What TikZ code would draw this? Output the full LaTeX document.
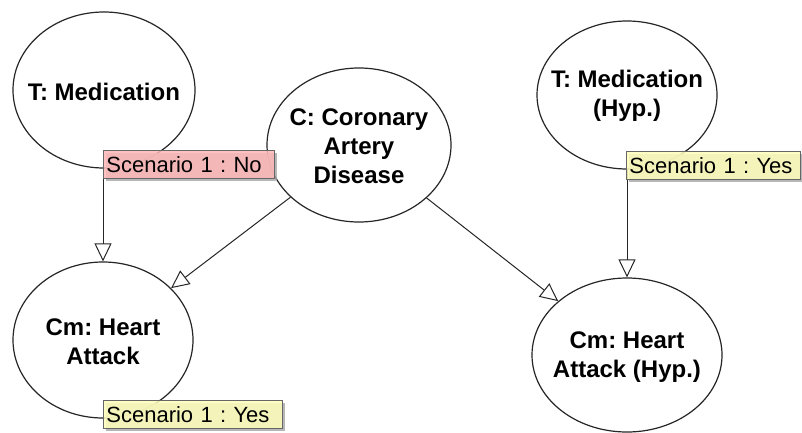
\documentclass[tikz,border=0pt]{standalone}
\usepackage{fontspec}
\setmainfont{Liberation Sans}
\usetikzlibrary{shapes.geometric,arrows.meta,shadows}
\definecolor{pinkbox}{HTML}{FFB8B8}
\definecolor{yellowbox}{HTML}{FFFFBB}
\frenchspacing
\begin{document}
\begin{tikzpicture}[x=1pt,y=-1pt,
  ell/.style={draw=black!85, line width=1.2pt, ellipse, inner sep=0pt},
  etext/.style={font=\frenchspacing\fontsize{24}{29}\selectfont\bfseries, align=center, inner sep=0pt},
  arr/.style={draw=black!85, line width=1pt, -{Triangle[length=18pt,width=17pt,fill=white,line width=1pt]}},
  tag/.style={draw=black!60, line width=0.8pt, anchor=north west, inner xsep=3pt, inner ysep=0pt,
    minimum height=28pt, font=\frenchspacing\fontsize{22}{26}\selectfont, align=left, fill opacity=0.85, text opacity=1,
    drop shadow={shadow xshift=3pt, shadow yshift=-3pt, fill=black!35, opacity=0.8}},
]
\useasboundingbox (0,0) rectangle (802,433);
\fill[white] (0,0) rectangle (802,433);
% ellipses
\node[ell, minimum width=182pt, minimum height=156pt] (tm) at (104,90) {};
\node[ell, minimum width=184pt, minimum height=154pt] (cad) at (359,145) {};
\node[ell, minimum width=180pt, minimum height=148pt] (tmh) at (627,95) {};
\node[ell, minimum width=180pt, minimum height=156pt] (ha) at (103,340) {};
\node[ell, minimum width=190pt, minimum height=154pt] (hah) at (627,355) {};
% texts
\node[etext] (ttm) at (104,92) {T: Medication};
\node[etext] (tcad) at (359,146) {C: Coronary\\Artery\\Disease};
\node[etext] (ttmh) at (627,96) {T: Medication\\(Hyp.)};
\node[etext] (tha) at (103,342) {Cm: Heart\\Attack};
\node[etext] (thah) at (627,357) {Cm: Heart\\Attack (Hyp.)};
% arrows
\draw[arr] (tm.south -| ha.north) -- (ha.north);
\draw[arr] (cad) -- (ha);
\draw[arr] (cad) -- (hah);
\draw[arr] (tmh.south -| hah.north) -- (hah.north);
% tags
\node[tag, fill=pinkbox, text width=165pt] (s1) at (103,150) {Scenario 1 : No};
\node[tag, fill=yellowbox, text width=168pt] (s2) at (626,151) {Scenario 1 : Yes};
\node[tag, fill=yellowbox, text width=173pt] (s3) at (103,400) {Scenario 1 : Yes};
\end{tikzpicture}
\end{document}
